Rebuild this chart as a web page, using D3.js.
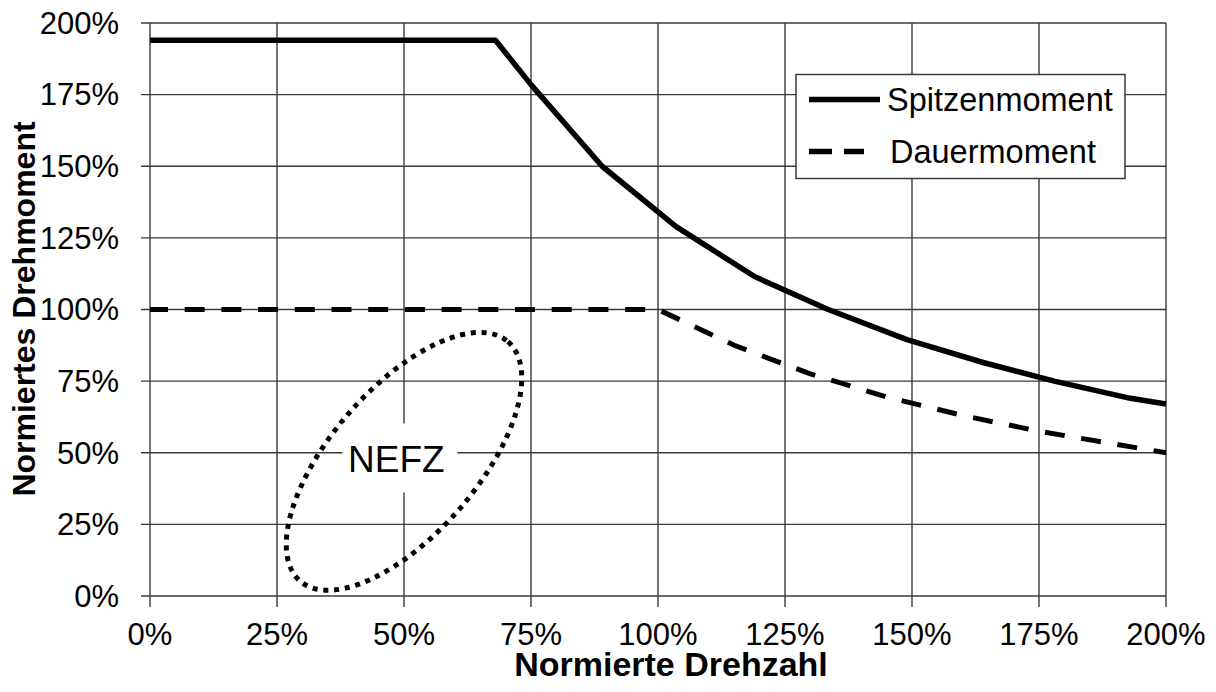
<!DOCTYPE html>
<html>
<head>
<meta charset="utf-8">
<script src="https://cdn.jsdelivr.net/npm/d3@7"></script>
<style>
  body { margin: 0; background: #fff; }
  svg { display: block; font-family: "Liberation Sans", Arial, sans-serif; }
  .grid line { stroke: #3a3a3a; stroke-width: 1.4; }
  .tick-label { font-size: 31px; fill: #000; }
  .title { font-size: 32px; font-weight: bold; fill: #000; }
</style>
</head>
<body>
<svg id="chart" width="1216" height="692"></svg>
<script>
// values (percent of nominal)
var ticks = [0, 25, 50, 75, 100, 125, 150, 175, 200];

var spitzenX = [0, 68, 75, 89, 103.5, 119, 133.5, 149, 164, 178, 193, 200];
var spitzenY = [194, 194, 178.5, 150, 129, 111.5, 100, 89.5, 81.5, 75, 69, 67];

var dauerX = [0, 100, 115, 130, 145, 160, 175, 190, 200];
var dauerY = [100, 100, 87.5, 77.5, 69.5, 63, 57.5, 53, 50];

// NEFZ area: centre in data units, semi axes in x-units, rotation in degrees
var nefzCenter = [50, 47];
var nefzAxes = [31.2, 14.4];
var nefzAngle = -49;
var nefzLabel = [48.5, 48];

var svg = d3.select("#chart"),
    plotLeft = 150, plotRight = 1166, plotTop = 23, plotBottom = 596;

var xScale = d3.scaleLinear().domain([0, 200]).range([plotLeft, plotRight]),
    yScale = d3.scaleLinear().domain([0, 200]).range([plotBottom, plotTop]);

var fmt = function(d) { return d + "%"; };

// grid + outside ticks
var grid = svg.append("g").attr("class", "grid");

grid.selectAll(".vl")
  .data(ticks)
  .enter().append("line")
    .attr("x1", function(d) { return xScale(d); })
    .attr("x2", function(d) { return xScale(d); })
    .attr("y1", plotTop)
    .attr("y2", plotBottom + 11);

grid.selectAll(".hl")
  .data(ticks)
  .enter().append("line")
    .attr("x1", plotLeft - 9)
    .attr("x2", plotRight)
    .attr("y1", function(d) { return yScale(d); })
    .attr("y2", function(d) { return yScale(d); });

// tick labels
svg.append("g").selectAll("text")
  .data(ticks)
  .enter().append("text")
    .attr("class", "tick-label")
    .attr("x", 119)
    .attr("y", function(d) { return yScale(d); })
    .attr("dy", "0.35em")
    .attr("text-anchor", "end")
    .text(fmt);

svg.append("g").selectAll("text")
  .data(ticks)
  .enter().append("text")
    .attr("class", "tick-label")
    .attr("x", function(d) { return xScale(d); })
    .attr("y", 645)
    .attr("text-anchor", "middle")
    .text(fmt);

// axis titles
svg.append("text")
    .attr("class", "title")
    .attr("x", 671)
    .attr("y", 676)
    .attr("text-anchor", "middle")
    .style("font-size", "34px")
    .text("Normierte Drehzahl");

svg.append("text")
    .attr("class", "title")
    .attr("transform", "translate(35,309) rotate(-90)")
    .attr("text-anchor", "middle")
    .text("Normiertes Drehmoment");

// NEFZ ellipse
var ex = xScale(nefzCenter[0]), ey = yScale(nefzCenter[1]),
    pxPerUnit = xScale(1) - xScale(0);

svg.append("ellipse")
    .attr("cx", 0)
    .attr("cy", 0)
    .attr("rx", nefzAxes[0] * pxPerUnit)
    .attr("ry", nefzAxes[1] * pxPerUnit)
    .attr("transform", "translate(" + ex + "," + ey + ") rotate(" + nefzAngle + ")")
    .attr("fill", "none")
    .attr("stroke", "#000")
    .attr("stroke-width", 5)
    .attr("stroke-dasharray", "5,5.8");

var lx = xScale(nefzLabel[0]), ly = yScale(nefzLabel[1]);
svg.append("rect")
    .attr("x", lx - 54)
    .attr("y", ly - 35)
    .attr("width", 115)
    .attr("height", 69)
    .attr("fill", "#fff");

svg.append("text")
    .attr("x", lx)
    .attr("y", ly)
    .attr("dy", "0.36em")
    .attr("text-anchor", "middle")
    .style("font-size", "37px")
    .text("NEFZ");

// curves
var line = d3.line()
    .x(function(d) { return xScale(d[0]); })
    .y(function(d) { return yScale(d[1]); });

var spitzen = d3.zip(spitzenX, spitzenY),
    dauer = d3.zip(dauerX, dauerY);

svg.append("path")
    .attr("d", line(dauer))
    .attr("fill", "none")
    .attr("stroke", "#000")
    .attr("stroke-width", 5)
    .attr("stroke-dasharray", "20,16.7")
    .attr("stroke-dashoffset", 2);

svg.append("path")
    .attr("d", line(spitzen))
    .attr("fill", "none")
    .attr("stroke", "#000")
    .attr("stroke-width", 5.5)
    .attr("stroke-linejoin", "round");

// legend
var legend = svg.append("g");

legend.append("rect")
    .attr("x", 796)
    .attr("y", 74.5)
    .attr("width", 329)
    .attr("height", 104)
    .attr("fill", "#fff")
    .attr("stroke", "#3a3a3a")
    .attr("stroke-width", 1.5);

var items = [
  {name: "Spitzenmoment", y: 99.5, dash: null, tx: 887},
  {name: "Dauermoment", y: 151.5, dash: "23,12", tx: 890}
];

items.forEach(function(it) {
  legend.append("line")
      .attr("x1", 809)
      .attr("x2", it.dash ? 864 : 880)
      .attr("y1", it.y)
      .attr("y2", it.y)
      .attr("stroke", "#000")
      .attr("stroke-width", 5.5)
      .attr("stroke-dasharray", it.dash);
  legend.append("text")
      .attr("x", it.tx)
      .attr("y", it.y + 11.5)
      .style("font-size", "32.5px")
      .text(it.name);
});
</script>
</body>
</html>
